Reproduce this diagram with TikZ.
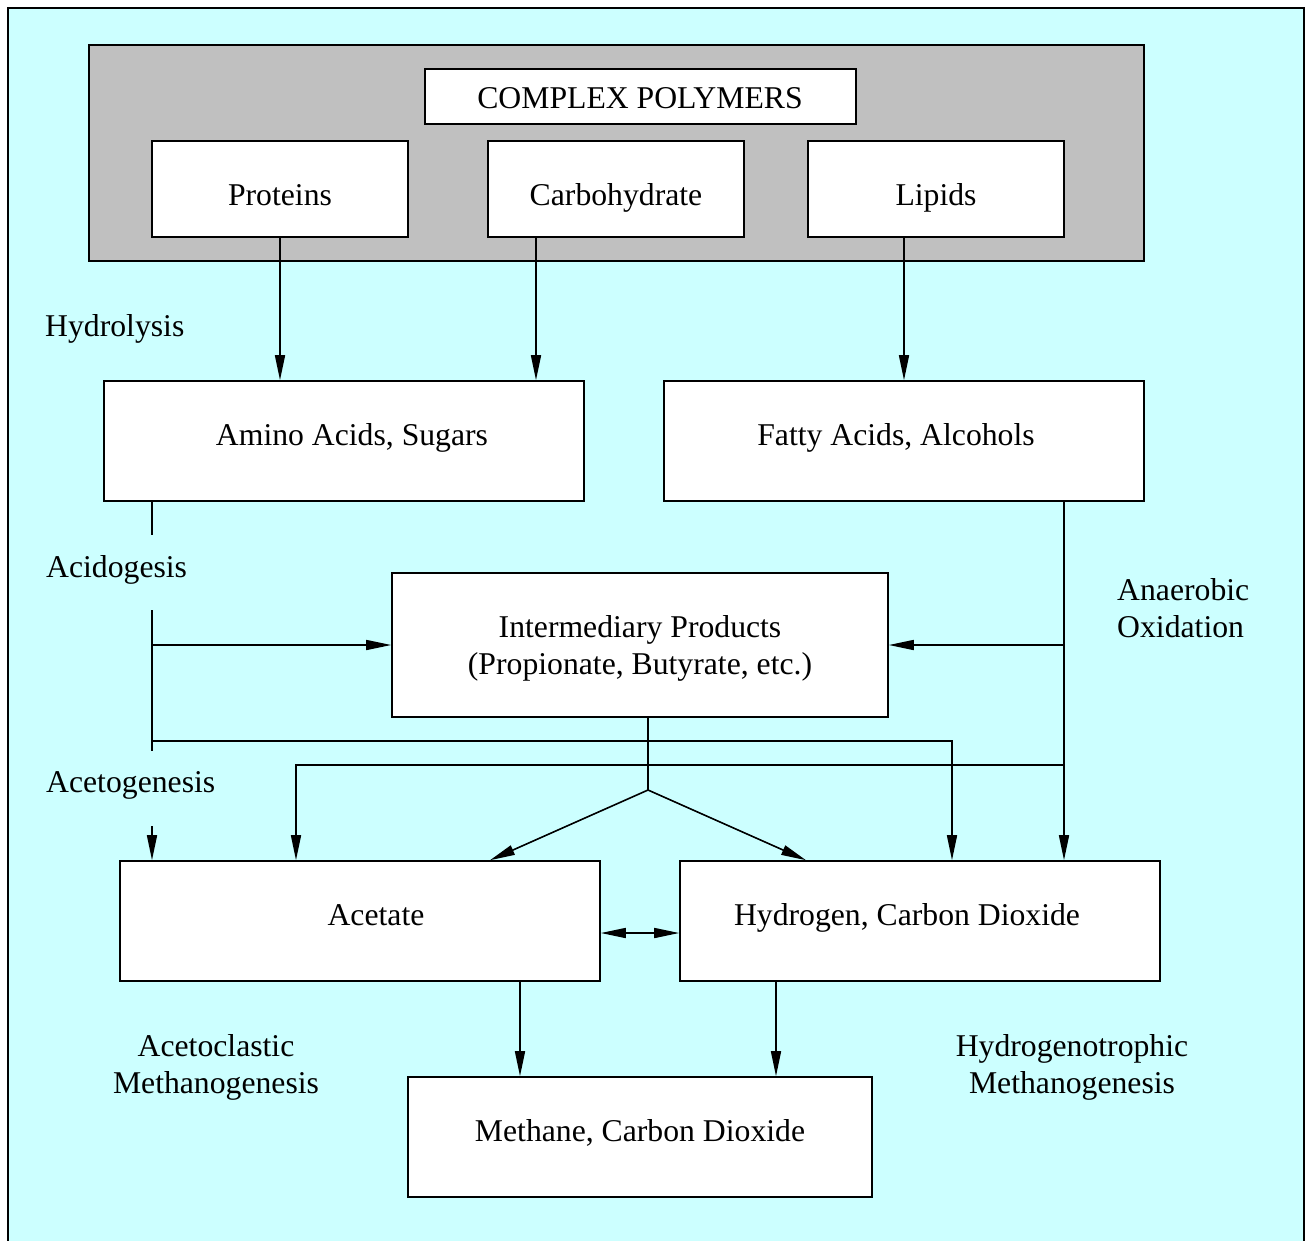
\documentclass[tikz,border=0pt]{standalone}
\usepackage{fontspec}
\setmainfont{Liberation Serif}
\usetikzlibrary{arrows.meta}
\definecolor{bgcyan}{RGB}{204,255,255}
\definecolor{polygray}{RGB}{192,192,192}
\begin{document}
\begin{tikzpicture}[x=1pt,y=-1pt,
  box/.style={draw, fill=white, line width=1.6pt, inner sep=0pt, rectangle},
  txt/.style={inner sep=0pt, font=\fontsize{31.7}{37}\selectfont, anchor=base},
  lbl/.style={inner sep=0pt, font=\fontsize{31.7}{37}\selectfont, anchor=base west},
  con/.style={line width=1.6pt},
  arr/.style={line width=1.6pt, -{Triangle[length=25pt,width=10pt]}},
  darr/.style={line width=1.6pt, {Triangle[length=25pt,width=10pt]}-{Triangle[length=25pt,width=10pt]}}]
\useasboundingbox (0,0) rectangle (1308,1240);
\clip (0,0) rectangle (1308,1240);
% frame
\node[draw, fill=bgcyan, line width=1.6pt, inner sep=0pt, minimum width=1296pt, minimum height=1300pt] (frame) at (656,658) {};
% complex polymers group
\node[draw, fill=polygray, line width=1.6pt, inner sep=0pt, minimum width=1055pt, minimum height=216pt] (grp) at (616.5,153) {};
\node[box, minimum width=431pt, minimum height=55pt] (cp) at (640.5,96.5) {};
\node[txt] (cpt) at (640,108.5) {COMPLEX POLYMERS};
\node[box, minimum width=256pt, minimum height=96pt] (pro) at (280,189) {};
\node[txt] (prot) at (280,205) {Proteins};
\node[box, minimum width=256pt, minimum height=96pt] (car) at (616,189) {};
\node[txt] (cart) at (616,205) {Carbohydrate};
\node[box, minimum width=256pt, minimum height=96pt] (lip) at (936,189) {};
\node[txt] (lipt) at (936,205) {Lipids};
% second row
\node[box, minimum width=480pt, minimum height=120pt] (am) at (344,441) {};
\node[txt] (amt) at (352,445) {Amino Acids, Sugars};
\node[box, minimum width=480pt, minimum height=120pt] (fa) at (904,441) {};
\node[txt] (fat) at (896,445) {Fatty Acids, Alcohols};
% intermediary
\node[box, minimum width=496pt, minimum height=144pt] (inter) at (640,645) {};
\node[txt, align=center] (intt) at (640,674) {Intermediary Products\\(Propionate, Butyrate, etc.)};
% acetate / hydrogen
\node[box, minimum width=480pt, minimum height=120pt] (ac) at (360,921) {};
\node[txt] (act) at (376,925) {Acetate};
\node[box, minimum width=480pt, minimum height=120pt] (hy) at (920,921) {};
\node[txt] (hyt) at (907,925) {Hydrogen, Carbon Dioxide};
% methane
\node[box, minimum width=464pt, minimum height=120pt] (me) at (640,1137) {};
\node[txt] (met) at (640,1141) {Methane, Carbon Dioxide};
% labels
\node[lbl] (lhyd) at (45,336) {Hydrolysis};
\node[lbl] (lacid) at (46,577) {Acidogesis};
\node[lbl] (laceto) at (46,792) {Acetogenesis};
\node[lbl, align=left] (lanae) at (1117,637) {Anaerobic\\Oxidation};
\node[txt, align=center] (lacl) at (216,1093) {Acetoclastic\\Methanogenesis};
\node[txt, align=center] (lhtr) at (1072,1093) {Hydrogenotrophic\\Methanogenesis};
% coordinates
\coordinate (a1) at (152,535);
\coordinate (a2) at (152,610);
\coordinate (a3) at (152,751);
\coordinate (a4) at (152,826);
\coordinate (sp) at (648,790);
% hydrolysis arrows
\draw[arr] (pro.south) -- (pro.south |- am.north);
\draw[arr] (car.south -| 536,0) -- (am.north -| 536,0);
\draw[arr] (lip.south -| 904,0) -- (fa.north -| 904,0);
% acidogenesis
\draw[con] (am.south -| a1) -- (a1);
\draw[con] (a2) -- (a3);
\draw[arr] (a2 |- inter.west) -- (inter.west);
\draw[arr] (152,741) -- (952,741) -- (hy.north -| 952,0);
\draw[arr] (a4) -- (ac.north -| a4);
% anaerobic oxidation
\draw[arr] (fa.south -| 1064,0) -- (hy.north -| 1064,0);
\draw[arr] (inter.east -| 1064,0) -- (inter.east);
\draw[arr] (1064,765) -- (296,765) -- (ac.north -| 296,0);
% intermediary split
\draw[con] (inter.south -| sp) -- (sp);
\draw[arr] (sp) -- (ac.north -| 490,0);
\draw[arr] (sp) -- (hy.north -| 806,0);
% acetate <-> hydrogen
\draw[darr] (ac.east |- 0,933) -- (hy.west |- 0,933);
% methanogenesis
\draw[arr] (ac.south -| 520,0) -- (me.north -| 520,0);
\draw[arr] (hy.south -| 776,0) -- (me.north -| 776,0);
\end{tikzpicture}
\end{document}
